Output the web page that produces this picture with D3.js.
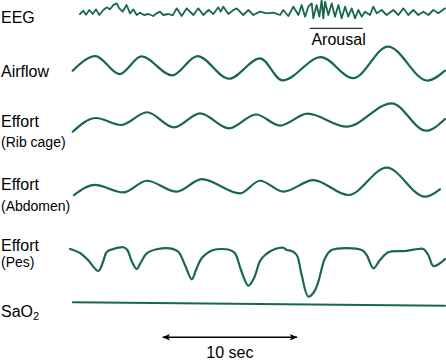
<!DOCTYPE html>
<html>
<head>
<meta charset="utf-8">
<script src="https://cdn.jsdelivr.net/npm/d3@7"></script>
<style>
body { margin: 0; background: #fff; }
text { font-family: "Liberation Sans", Arial, sans-serif; fill: #000; }
</style>
</head>
<body>
<div id="chart"></div>
<script>
var eegT = [0.88, 1.13, 1.32, 1.57, 1.81, 2.06, 2.30, 2.60, 2.84, 3.09, 3.33, 3.58, 3.77, 4.02, 4.31, 4.56, 4.80, 5.05, 5.29, 5.59,
    5.91, 6.27, 6.52, 6.76, 7.01, 7.38, 7.70, 7.99, 8.36, 8.73, 9.22, 9.58, 9.95, 10.34, 10.69, 11.05, 11.23, 11.42, 11.79, 12.16,
    12.40, 12.89, 13.26, 13.63, 14.12, 14.61, 15.10, 15.59, 15.83, 16.20, 16.57, 16.94, 17.18, 17.43, 17.67, 17.92, 18.04, 18.28, 18.48, 18.65,
    18.77, 18.90, 19.14, 19.39, 19.63, 19.88, 20.12, 20.37, 20.61, 20.86, 21.10, 21.35, 21.59, 21.84, 22.21, 22.45, 22.70, 23.06, 23.43, 23.92,
    24.29, 24.66, 25.02, 25.39, 25.76, 26.13, 26.50, 26.86, 27.23, 27.72];
var eegV = [-4, 16, -8, 20, -4, 24, -10, 20, 36, 24, 50, 60, 30, 10, 50, 0, 24, -10, 4, -10,
    -4, -16, 0, 10, -10, -4, -12, 30, -16, 30, -10, 30, -10, 20, -4, 36, 10, 40, -4, 20,
    30, -10, 20, -10, 10, 0, 4, -10, 20, -16, 40, -10, 50, -20, 40, 60, -30, 50, -20, 80,
    -30, 70, -10, 60, -20, 50, -30, 40, -20, 30, -30, 20, -20, 10, -10, 40, 0, 20, -10, 20,
    -10, 30, -10, 20, -10, 10, -10, 20, 0, 30];

var airflowT = [0.35, 2.02, 3.79, 5.40, 7.65, 9.52, 11.84, 14.12, 15.77, 18.60, 20.96, 23.53, 26.43, 27.72];
var airflowV = [-0.37, 0.44, -0.56, 0.42, -0.63, 0.44, -0.82, 0.31, -0.91, 0.38, -0.79, 0.97, -0.92, -0.37];

var ribT = [0.35, 2.06, 3.90, 5.81, 7.79, 9.71, 11.84, 13.82, 15.59, 17.61, 20.49, 23.80, 26.32, 27.72];
var ribV = [-1.05, -0.07, -0.57, 0.34, -0.74, 0.26, -0.81, 0.18, -0.61, 0.24, -0.69, 0.98, -0.98, -0.14];

var abdT = [0.44, 1.99, 4.07, 5.79, 7.99, 9.83, 12.65, 14.12, 15.83, 18.04, 20.61, 23.43, 26.25, 27.35];
var abdV = [-0.93, -0.21, -0.74, 0.09, -0.69, 0.21, -0.81, 0.09, -0.69, 0.14, -0.93, 1.02, -1.05, -0.52];

var pesT = [0.15, 0.88, 1.47, 2.23, 2.57, 2.85, 3.33, 4.07, 4.36, 4.71, 5.05, 5.37, 5.79, 6.52, 7.50, 8.11, 8.60, 9.10, 9.41, 9.83,
    10.68, 11.91, 12.28, 12.72, 13.26, 13.68, 14.12, 14.49, 15.22, 15.83, 16.08, 16.45, 16.82, 17.18, 17.67, 18.09, 18.40, 18.90, 19.39, 21.60,
    21.96, 22.45, 22.94, 23.55, 24.78, 25.76, 26.13, 26.49, 26.86, 27.35, 27.72];
var pesV = [-0.5, -2.5, -6, -11.5, -7, -2, -0.5, 0.35, -1, -7, -10.5, -7, -2.65, -0.65, -0.15, -1.85, -8.5, -15.65, -11, -5.15,
    -1, -1, -2.65, -11, -18.85, -15, -6.5, -3.5, -0.5, 0.15, -1, -1.5, -3.5, -13.5, -24.35, -22, -17, -5.15, -1, -1,
    -3.5, -10.15, -6, -2.15, -1.5, -0.5, -0.5, -3.5, -9, -7.65, -5.5];

var sao2T = [0.35, 14, 27.72];
var sao2V = [97.0, 96.2, 95.5];

// markers
var arousal = [17.79, 21.67];
var timeBar = [6.9, 16.9];
var barLabel = "10 sec";

var width = 446,
    height = 362,
    green = "#17694a";

var svg = d3.select("#chart").append("svg")
    .attr("width", width)
    .attr("height", height);

// shared time axis
var x = d3.scaleLinear().domain([0, 27.72]).range([68, 445]);

function zip(t, v) {
    return t.map(function(d, i) { return {t: d, v: v[i]}; });
}

// one band per channel
var channels = [
    {data: zip(eegT, eegV), y: d3.scaleLinear().domain([-40, 80]).range([20, 0]), curve: d3.curveLinear, w: 1.8},
    {data: zip(airflowT, airflowV), y: d3.scaleLinear().domain([-1, 1]).range([82, 46]), curve: d3.curveMonotoneX, w: 2.2},
    {data: zip(ribT, ribV), y: d3.scaleLinear().domain([-1, 1]).range([131, 103]), curve: d3.curveMonotoneX, w: 2.2},
    {data: zip(abdT, abdV), y: d3.scaleLinear().domain([-1, 1]).range([196, 168]), curve: d3.curveMonotoneX, w: 2.2},
    {data: zip(pesT, pesV), y: d3.scaleLinear().domain([-25, 2]).range([298, 244]), curve: d3.curveCatmullRom, w: 2.2},
    {data: zip(sao2T, sao2V), y: d3.scaleLinear().domain([94, 98]).range([309.1, 300]), curve: d3.curveLinear, w: 2}
];

channels.forEach(function(c) {
    var line = d3.line()
        .x(function(d) { return x(d.t); })
        .y(function(d) { return c.y(d.v); })
        .curve(c.curve);
    svg.append("path")
        .datum(c.data)
        .attr("d", line)
        .attr("fill", "none")
        .attr("stroke", green)
        .attr("stroke-width", c.w)
        .attr("stroke-linejoin", "round")
        .attr("stroke-linecap", "round");
});

// labels
var labels = [
    {text: "EEG", y: 22.7, size: 16},
    {text: "Airflow", y: 76.7, size: 16},
    {text: "Effort", y: 127.3, size: 16},
    {text: "(Rib cage)", y: 147, size: 14},
    {text: "Effort", y: 190, size: 16},
    {text: "(Abdomen)", y: 210.5, size: 14},
    {text: "Effort", y: 250.7, size: 16},
    {text: "(Pes)", y: 266.5, size: 14}
];
svg.selectAll(".lab")
    .data(labels)
    .enter().append("text")
    .attr("class", "lab")
    .attr("x", 1)
    .attr("y", function(d) { return d.y; })
    .attr("font-size", function(d) { return d.size; })
    .text(function(d) { return d.text; });

var sa = svg.append("text").attr("x", 1).attr("y", 316.7).attr("font-size", 16);
sa.append("tspan").text("SaO");
sa.append("tspan").attr("font-size", 11).attr("dy", 3).text("2");

// arousal marker
svg.append("line")
    .attr("x1", x(arousal[0])).attr("x2", x(arousal[1]))
    .attr("y1", 28.3).attr("y2", 28.3)
    .attr("stroke", "#000").attr("stroke-width", 1);
svg.append("text")
    .attr("x", x(arousal[0]) + 1.5)
    .attr("y", 45)
    .attr("font-size", 16)
    .text("Arousal");

// 10 sec scale bar
svg.append("defs").selectAll("marker")
    .data(["start", "end"])
    .enter().append("marker")
    .attr("id", function(d) { return "arr-" + d; })
    .attr("viewBox", "0 -5 10 10")
    .attr("refX", 9)
    .attr("refY", 0)
    .attr("markerUnits", "userSpaceOnUse")
    .attr("markerWidth", 10)
    .attr("markerHeight", 8)
    .attr("orient", "auto-start-reverse")
    .append("path")
    .attr("d", "M0,-4L10,0L0,4L2.5,0Z")
    .attr("fill", "#000");

svg.append("line")
    .attr("x1", x(timeBar[0]) + 1).attr("x2", x(timeBar[1]) - 1)
    .attr("y1", 337.3).attr("y2", 337.3)
    .attr("stroke", "#000").attr("stroke-width", 1.6)
    .attr("marker-start", "url(#arr-start)")
    .attr("marker-end", "url(#arr-end)");

svg.append("text")
    .attr("x", (x(timeBar[0]) + x(timeBar[1])) / 2)
    .attr("y", 358)
    .attr("font-size", 16)
    .attr("text-anchor", "middle")
    .text(barLabel);
</script>
</body>
</html>
